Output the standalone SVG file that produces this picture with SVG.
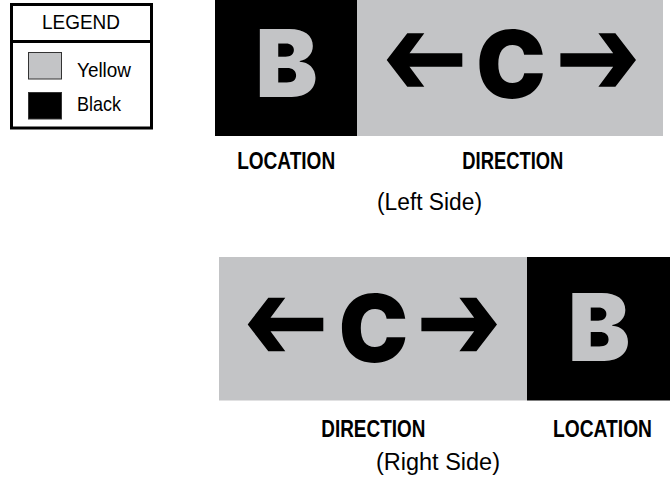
<svg xmlns="http://www.w3.org/2000/svg" xmlns:xlink="http://www.w3.org/1999/xlink" width="670" height="485" viewBox="0 0 670 485">
  <defs>
    <style>
      .bg { fill: #ffffff; }
      .yel { fill: #c3c4c6; }
      .blk { fill: #000000; }
      .big { font-family: "Inter", "DejaVu Sans", sans-serif; font-weight: 900; font-size: 93px; text-anchor: middle; }
      .lbl { font-family: "Liberation Sans", Arial, sans-serif; font-weight: bold; font-size: 23px; fill: #000; text-anchor: middle; }
      .side { font-family: "Liberation Sans", Arial, sans-serif; font-size: 23px; fill: #000; text-anchor: middle; }
      .leg { font-family: "Liberation Sans", Arial, sans-serif; font-size: 21px; fill: #000; }
    </style>
    <path id="arrowL" d="M0,0 L20.6,-26.7 L37.6,-26.7 L22.8,-6.7 L75.6,-6.7 L75.6,6.7 L22.8,6.7 L37.6,26.7 L20.6,26.7 Z" fill="#000"/>
  </defs>
  <rect class="bg" x="0" y="0" width="670" height="485"/>

  <g id="legend">
    <rect x="11.5" y="4.5" width="140" height="123.5" fill="#fff" stroke="#000" stroke-width="3"/>
    <line x1="11.5" y1="41.5" x2="151.5" y2="41.5" stroke="#000" stroke-width="3"/>
    <text class="leg" x="81" y="29" text-anchor="middle" textLength="78" lengthAdjust="spacingAndGlyphs">LEGEND</text>
    <rect x="28.5" y="52.5" width="33" height="26.5" fill="#c3c4c6" stroke="#333" stroke-width="1"/>
    <text class="leg" x="77" y="77" textLength="54" lengthAdjust="spacingAndGlyphs">Yellow</text>
    <rect x="28.5" y="92.5" width="33" height="26.5" fill="#000" stroke="#333" stroke-width="1"/>
    <text class="leg" x="77" y="111" textLength="44" lengthAdjust="spacingAndGlyphs">Black</text>
  </g>

  <g id="sign-left">
    <rect class="blk" x="215" y="0" width="142" height="136"/>
    <rect class="yel" x="357" y="0" width="306" height="136"/>
    <text class="big yel" x="286.5" y="96.7">B</text>
    <use xlink:href="#arrowL" transform="translate(386.7,60)"/>
    <text class="big blk" x="511" y="98">C</text>
    <use xlink:href="#arrowL" transform="translate(636,60) scale(-1,1)"/>
  </g>
  <g id="labels-left">
    <text class="lbl" x="286.2" y="169.3" textLength="98" lengthAdjust="spacingAndGlyphs">LOCATION</text>
    <text class="lbl" x="512.8" y="169.3" textLength="101" lengthAdjust="spacingAndGlyphs">DIRECTION</text>
    <text class="side" x="429.5" y="210" textLength="105" lengthAdjust="spacingAndGlyphs">(Left Side)</text>
  </g>

  <g id="sign-right">
    <rect class="yel" x="219" y="257" width="308" height="143.5"/>
    <rect class="blk" x="527" y="257" width="143" height="143.5"/>
    <use xlink:href="#arrowL" transform="translate(247.7,324.5)"/>
    <text class="big blk" x="373.5" y="362">C</text>
    <use xlink:href="#arrowL" transform="translate(497,324.5) scale(-1,1)"/>
    <text class="big yel" x="599" y="360.5">B</text>
  </g>
  <g id="labels-right">
    <text class="lbl" x="373.3" y="437" textLength="104" lengthAdjust="spacingAndGlyphs">DIRECTION</text>
    <text class="lbl" x="602.5" y="437" textLength="99" lengthAdjust="spacingAndGlyphs">LOCATION</text>
    <text class="side" x="438" y="470" textLength="124" lengthAdjust="spacingAndGlyphs">(Right Side)</text>
  </g>
</svg>
